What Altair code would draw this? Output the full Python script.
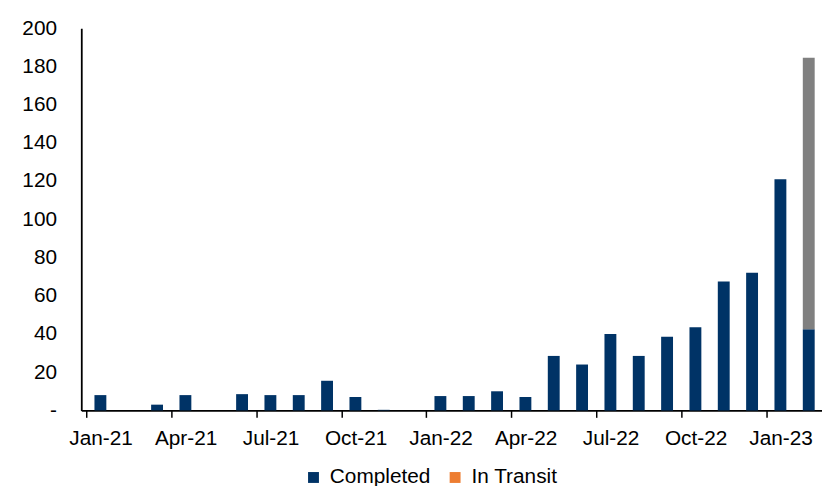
import altair as alt
import pandas as pd

months = ["Jan-21", "Feb-21", "Mar-21", "Apr-21", "May-21", "Jun-21", "Jul-21", "Aug-21",
          "Sep-21", "Oct-21", "Nov-21", "Dec-21", "Jan-22", "Feb-22", "Mar-22", "Apr-22",
          "May-22", "Jun-22", "Jul-22", "Aug-22", "Sep-22", "Oct-22", "Nov-22", "Dec-22",
          "Jan-23", "Feb-23"]
completed = [8, 0, 3, 8, 0, 8.5, 8, 8, 15.5, 7, 0.3, 0, 7.5, 7.5, 10, 7,
             28.5, 24, 40, 28.5, 38.5, 43.5, 67.5, 72, 121, 42.5]
in_transit = [0] * 26
planned = [0] * 25 + [142]
tick_labels = ["Jan-21", "Apr-21", "Jul-21", "Oct-21", "Jan-22", "Apr-22",
               "Jul-22", "Oct-22", "Jan-23"]
y_ticks = [0, 20, 40, 60, 80, 100, 120, 140, 160, 180, 200]

series = ["Completed", "In Transit", "Planned"]
colors = ["#003366", "#ED7D31", "#808080"]

rows = []
for i, m in enumerate(months):
    for k, (name, vals) in enumerate(zip(series, [completed, in_transit, planned])):
        rows.append({"month": m, "pos": i + 0.5, "series": name,
                     "value": vals[i], "order": k})
df = pd.DataFrame(rows)

FONT = "Liberation Sans"
WIDTH = 748
STEP = 29  # pixels per month in the reference (plot runs past the right edge)
tick_positions = [months.index(t) for t in tick_labels]
label_expr = "[" + ",".join("'%s'" % t for t in tick_labels) + "][round(datum.value / 3)]"

chart = alt.Chart(df).mark_bar(size=12).encode(
    x=alt.X("pos:Q", title=None,
            scale=alt.Scale(domain=[0, WIDTH / STEP], nice=False, zero=False),
            axis=alt.Axis(values=tick_positions, labelExpr=label_expr,
                          labelOffset=STEP / 2, labelFlush=False, labelOverlap=False,
                          labelAngle=0, tickSize=7, labelPadding=10,
                          domainColor="#000000", tickColor="#000000", domainWidth=1.8,
                          tickWidth=1.5, labelColor="#000000", labelFontSize=21,
                          labelFont=FONT, labelAlign="center", grid=False)),
    y=alt.Y("value:Q", stack="zero", title=None,
            scale=alt.Scale(domain=[0, 200], nice=False),
            axis=alt.Axis(values=y_ticks, ticks=False, labelPadding=25,
                          labelExpr="datum.value == 0 ? '-\u00a0\u00a0' : datum.label",
                          domainColor="#000000", domainWidth=1.8, labelColor="#000000",
                          labelFontSize=21, labelFont=FONT, grid=False)),
    color=alt.Color("series:N", scale=alt.Scale(domain=series, range=colors),
                    legend=alt.Legend(values=["Completed", "In Transit"], title=None,
                                      orient="none", legendX=224, legendY=443,
                                      direction="horizontal", symbolType="square",
                                      symbolSize=121, symbolStrokeWidth=0,
                                      labelFontSize=21, labelFont=FONT,
                                      labelColor="#000000", labelOffset=6,
                                      columnPadding=14)),
    order=alt.Order("order:Q"),
    tooltip=["month:N", "series:N", "value:Q"],
).properties(
    width=WIDTH, height=386,
    autosize=alt.AutoSizeParams(type="none"),
    padding={"left": 74, "top": 18, "right": 0, "bottom": 74},
).configure_view(stroke=None)

chart.save("out.html", embed_options={"renderer": "svg", "actions": False})
